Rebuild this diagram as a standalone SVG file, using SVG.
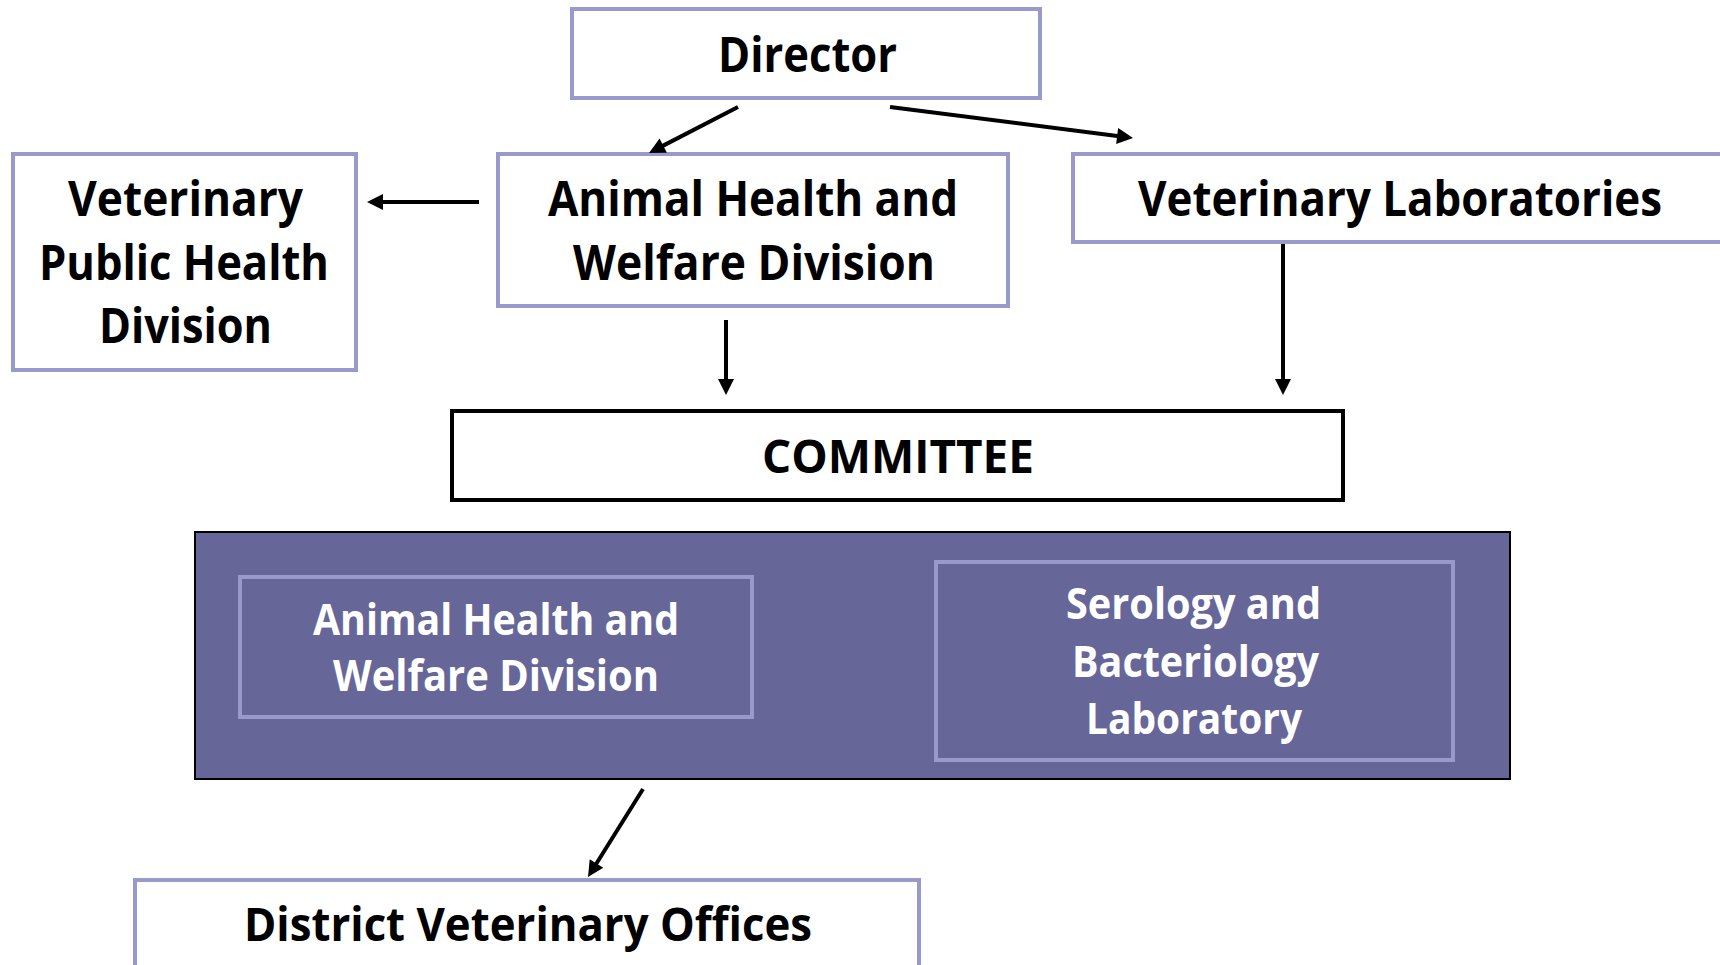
<svg xmlns="http://www.w3.org/2000/svg" width="1720" height="965" viewBox="0 0 1720 965">
<defs>
<style>
.box{fill:#ffffff;stroke:#9999CC;stroke-width:4}
.inner{fill:none;stroke:#9999CC;stroke-width:4}
.t{font-family:"Open Sans","Noto Sans","Liberation Sans",sans-serif;font-weight:bold;text-anchor:middle;fill:#000}
.w{fill:#ffffff}
.c{stroke:#000;stroke-width:4;fill:none}
</style>
<marker id="ah" markerUnits="userSpaceOnUse" markerWidth="16" markerHeight="16" refX="6" refY="8" orient="auto" overflow="visible">
<path d="M0,0 L16,8 L0,16 z" fill="#000"/>
</marker>
</defs>
<rect width="1720" height="965" fill="#ffffff"/>
<g id="director">
<rect class="box" x="572" y="9" width="468" height="89"/>
<text class="t" x="807.5" y="72" font-size="48" textLength="179" lengthAdjust="spacingAndGlyphs">Director</text>
</g>
<g id="ahw">
<rect class="box" x="498" y="154" width="510" height="152"/>
<text class="t" x="753" y="216" font-size="48" textLength="410" lengthAdjust="spacingAndGlyphs">Animal Health and</text>
<text class="t" x="754" y="280" font-size="48" textLength="362" lengthAdjust="spacingAndGlyphs">Welfare Division</text>
</g>
<g id="vph">
<rect class="box" x="13" y="154" width="343" height="216"/>
<text class="t" x="185.5" y="216" font-size="48" textLength="235" lengthAdjust="spacingAndGlyphs">Veterinary</text>
<text class="t" x="184" y="280" font-size="48" textLength="290" lengthAdjust="spacingAndGlyphs">Public Health</text>
<text class="t" x="185.5" y="343" font-size="48" textLength="173" lengthAdjust="spacingAndGlyphs">Division</text>
</g>
<g id="vetlab">
<rect class="box" x="1073" y="154" width="700" height="88"/>
<text class="t" x="1400" y="216" font-size="48" textLength="524" lengthAdjust="spacingAndGlyphs">Veterinary Laboratories</text>
</g>
<g id="committee">
<rect x="452" y="411" width="891" height="89" fill="#ffffff" stroke="#000" stroke-width="4"/>
<text class="t" x="898" y="473" font-size="46" textLength="272" lengthAdjust="spacingAndGlyphs">COMMITTEE</text>
</g>
<g id="group">
<rect x="195" y="532" width="1315" height="247" fill="#666699" stroke="#000" stroke-width="2"/>
</g>
<g id="ahw-inner">
<rect class="inner" x="240" y="577" width="512" height="140"/>
<text class="t w" x="496" y="635" font-size="43" textLength="366" lengthAdjust="spacingAndGlyphs">Animal Health and</text>
<text class="t w" x="496" y="691" font-size="43" textLength="326" lengthAdjust="spacingAndGlyphs">Welfare Division</text>
</g>
<g id="serology">
<rect class="inner" x="936" y="562" width="517" height="198"/>
<text class="t w" x="1193.5" y="619" font-size="43" textLength="255" lengthAdjust="spacingAndGlyphs">Serology and</text>
<text class="t w" x="1195.5" y="677" font-size="43" textLength="247" lengthAdjust="spacingAndGlyphs">Bacteriology</text>
<text class="t w" x="1194" y="734" font-size="43" textLength="216" lengthAdjust="spacingAndGlyphs">Laboratory</text>
</g>
<g id="district">
<rect class="box" x="135" y="880" width="784" height="100"/>
<text class="t" x="528" y="941" font-size="46" textLength="568" lengthAdjust="spacingAndGlyphs">District Veterinary Offices</text>
</g>
<g id="connectors">
<line class="c" x1="738" y1="107" x2="657.9" y2="148.4" marker-end="url(#ah)"/>
<line class="c" x1="890" y1="107" x2="1123.1" y2="136.7" marker-end="url(#ah)"/>
<line class="c" x1="479" y1="202" x2="377" y2="202" marker-end="url(#ah)"/>
<line class="c" x1="726" y1="320" x2="726" y2="385" marker-end="url(#ah)"/>
<line class="c" x1="1283" y1="244" x2="1283" y2="385" stroke-width="3" marker-end="url(#ah)"/>
<line class="c" x1="643" y1="789" x2="593.3" y2="868.5" marker-end="url(#ah)"/>
</g>
</svg>
